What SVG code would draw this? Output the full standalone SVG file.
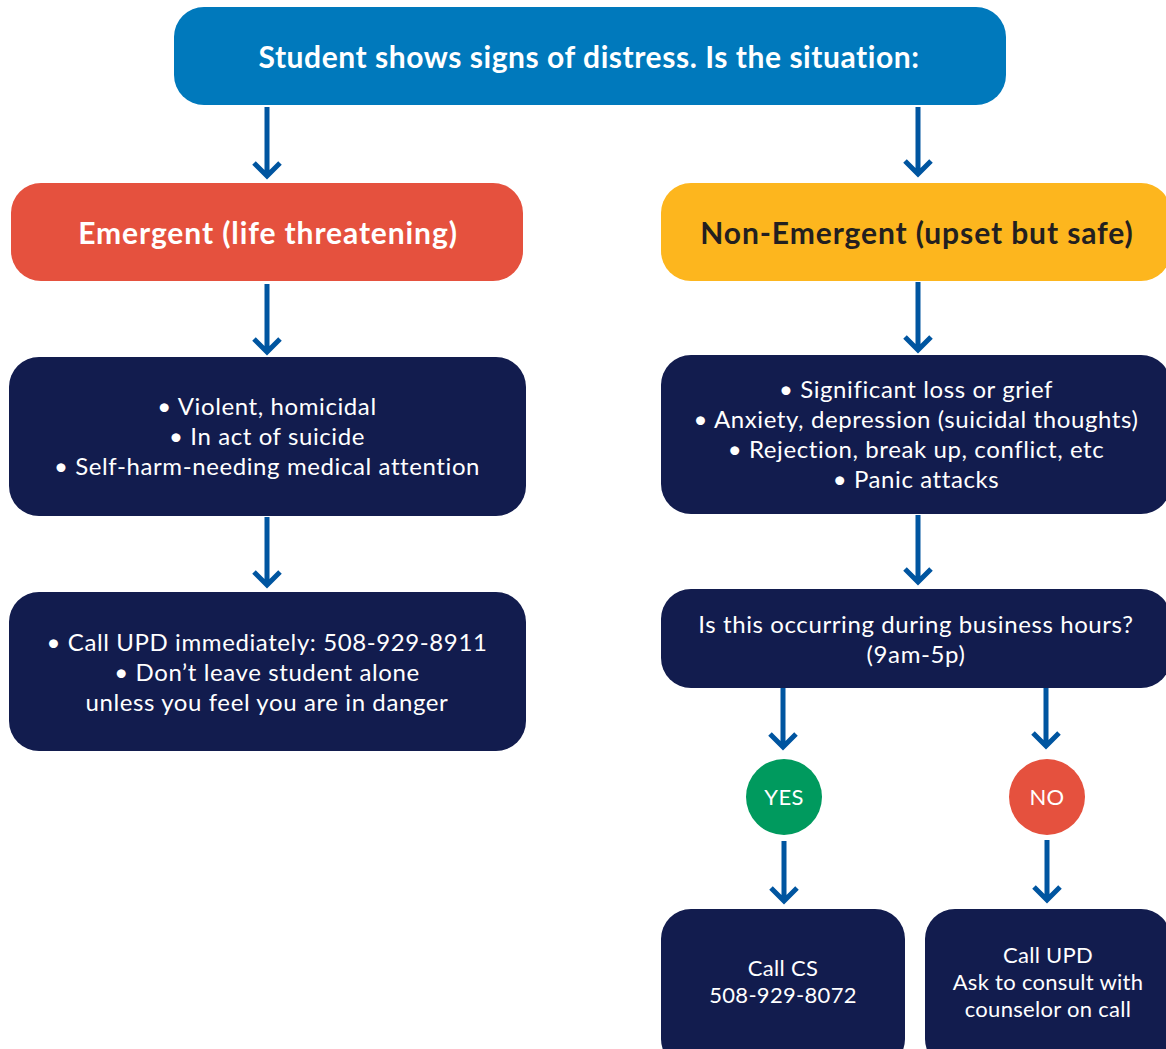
<svg xmlns="http://www.w3.org/2000/svg" width="1166" height="1049" viewBox="0 0 1166 1049">
<style>
.t{font-family:Lato,"Open Sans","DejaVu Sans",sans-serif;text-anchor:middle;fill:#fff}
.h{font-weight:bold;font-size:30px;letter-spacing:0.9px}
.b{font-size:24px;letter-spacing:0.6px}
.s{font-size:22px;letter-spacing:0.3px}
.navy{fill:#121C4E}
.arr{fill:none;stroke:#0055A0;stroke-width:5}
</style>
<rect width="1166" height="1049" fill="#fff"/>
<g id="connectors" class="arr">
<path d="M267 107V176M254 163L267 176L280 163"/>
<path d="M918 107V174M905 161L918 174L931 161"/>
<path d="M267 284V352M254 339L267 352L280 339"/>
<path d="M918 282V350M905 337L918 350L931 337"/>
<path d="M267 517V585M254 572L267 585L280 572"/>
<path d="M918 515V582M905 569L918 582L931 569"/>
<path d="M783 688V747M770 734L783 747L796 734"/>
<path d="M1046 688V746M1033 733L1046 746L1059 733"/>
<path d="M784 841V901M771 888L784 901L797 888"/>
<path d="M1047 840V900M1034 887L1047 900L1060 887"/>
</g>
<g id="start">
<rect x="174" y="7" width="832" height="98" rx="30" fill="#0079BC"/>
<text class="t h" x="589" y="68" style="letter-spacing:0.55px">Student shows signs of distress. Is the situation:</text>
</g>
<g id="emergent">
<rect x="11" y="183" width="512" height="98" rx="30" fill="#E5513E"/>
<text class="t h" x="268" y="244">Emergent (life threatening)</text>
</g>
<g id="nonemergent">
<rect x="661" y="183" width="510" height="98" rx="30" fill="#FDB61E"/>
<text class="t h" x="917" y="244" style="fill:#231F20">Non-Emergent (upset but safe)</text>
</g>
<g id="emergent-signs">
<rect x="9" y="357" width="517" height="159" rx="30" class="navy"/>
<text class="t b" x="267" y="415">• Violent, homicidal</text>
<text class="t b" x="267" y="445">• In act of suicide</text>
<text class="t b" x="267" y="475">• Self-harm-needing medical attention</text>
</g>
<g id="emergent-action">
<rect x="9" y="592" width="517" height="159" rx="30" class="navy"/>
<text class="t b" x="267" y="651">• Call UPD immediately: 508-929-8911</text>
<text class="t b" x="267" y="681">• Don’t leave student alone</text>
<text class="t b" x="267" y="711">unless you feel you are in danger</text>
</g>
<g id="nonemergent-signs">
<rect x="661" y="355" width="510" height="159" rx="30" class="navy"/>
<text class="t b" x="916" y="398">• Significant loss or grief</text>
<text class="t b" x="916" y="428">• Anxiety, depression (suicidal thoughts)</text>
<text class="t b" x="916" y="458">• Rejection, break up, conflict, etc</text>
<text class="t b" x="916" y="488">• Panic attacks</text>
</g>
<g id="hours">
<rect x="661" y="589" width="510" height="99" rx="30" class="navy"/>
<text class="t b" x="916" y="633">Is this occurring during business hours?</text>
<text class="t b" x="916" y="663">(9am-5p)</text>
</g>
<g id="yes">
<circle cx="784" cy="797" r="38" fill="#009A5E"/>
<text class="t s" x="784" y="805">YES</text>
</g>
<g id="no">
<circle cx="1047" cy="797" r="38" fill="#E5513E"/>
<text class="t s" x="1047" y="805">NO</text>
</g>
<g id="call-cs">
<rect x="661" y="909" width="244" height="160" rx="30" class="navy"/>
<text class="t s" x="783" y="976">Call CS</text>
<text class="t s" x="783" y="1003">508-929-8072</text>
</g>
<g id="call-upd">
<rect x="925" y="909" width="246" height="160" rx="30" class="navy"/>
<text class="t s" x="1048" y="963">Call UPD</text>
<text class="t s" x="1048" y="990">Ask to consult with</text>
<text class="t s" x="1048" y="1017">counselor on call</text>
</g>
</svg>
